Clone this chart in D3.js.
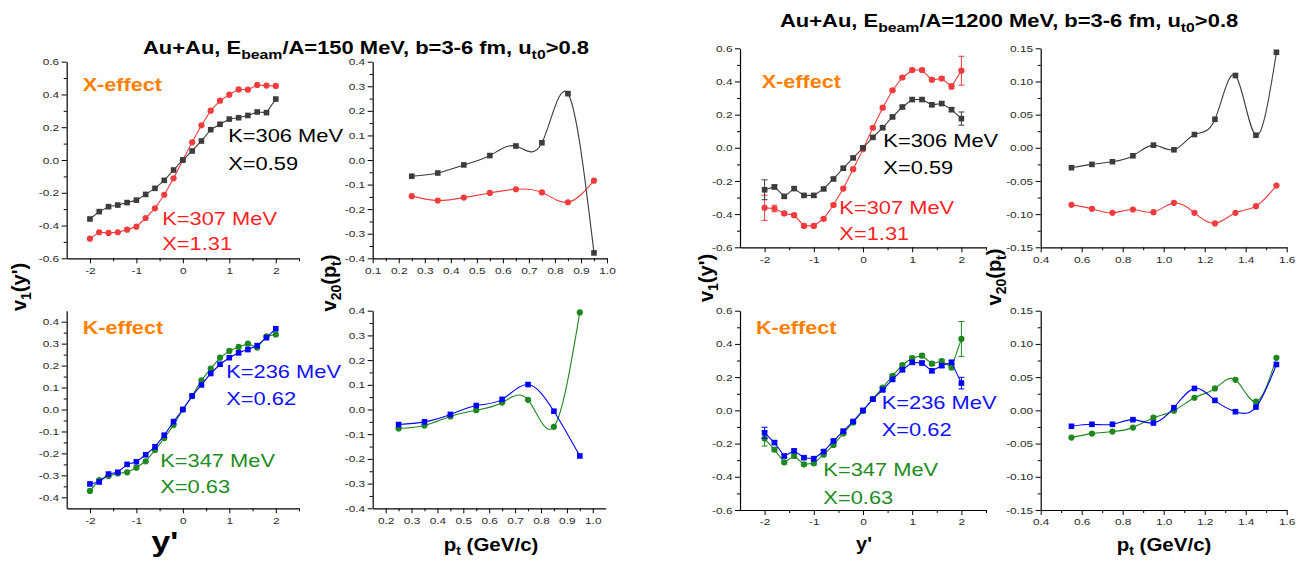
<!DOCTYPE html>
<html><head><meta charset="utf-8">
<script src="https://cdn.jsdelivr.net/npm/d3@7"></script>
<style>
body{margin:0;background:#fff}
svg{display:block}
text{font-family:Arial,"Liberation Sans",Helvetica,sans-serif}
</style>
</head><body>
<svg id="c" width="1304" height="561"></svg>
<script>
// ---------------- DATA ----------------
const yPrime = [-2,-1.8,-1.6,-1.4,-1.2,-1.0,-0.8,-0.6,-0.4,-0.2,0,0.2,0.4,0.6,0.8,1.0,1.2,1.4,1.6,1.8,2.0];
const pt150  = [0.25,0.35,0.45,0.55,0.65,0.75,0.85,0.95];
const pt1200 = [0.55,0.65,0.75,0.85,0.95,1.05,1.15,1.25,1.35,1.45,1.55];

// Ebeam/A = 150 MeV
const v1_150_K306  = [-0.36,-0.315,-0.285,-0.275,-0.26,-0.245,-0.21,-0.173,-0.124,-0.061,0,0.055,0.116,0.185,0.218,0.25,0.258,0.272,0.293,0.289,0.372];
const v1_150_K307  = [-0.48,-0.441,-0.445,-0.441,-0.425,-0.407,-0.354,-0.295,-0.212,-0.112,0,0.108,0.212,0.301,0.362,0.399,0.431,0.429,0.458,0.454,0.452];
const v20_150_K306 = [-0.066,-0.053,-0.02,0.018,0.057,0.07,0.27,-0.378];
const v20_150_K307 = [-0.147,-0.165,-0.153,-0.134,-0.119,-0.132,-0.172,-0.084];
const v1_150_K236  = [-0.339,-0.33,-0.294,-0.286,-0.25,-0.238,-0.206,-0.17,-0.117,-0.055,0,0.062,0.112,0.164,0.206,0.236,0.258,0.273,0.291,0.327,0.368];
const v1_150_K347  = [-0.371,-0.321,-0.303,-0.291,-0.286,-0.265,-0.236,-0.185,-0.13,-0.071,0,0.061,0.133,0.186,0.236,0.267,0.285,0.3,0.282,0.333,0.342];
const v20_150_K236 = [-0.061,-0.05,-0.02,0.016,0.041,0.101,-0.007,-0.188];
const v20_150_K347 = [-0.077,-0.065,-0.028,-0.003,0.028,0.039,-0.07,0.393];

// Ebeam/A = 1200 MeV
const v1_1200_K306  = [-0.253,-0.236,-0.293,-0.246,-0.287,-0.287,-0.248,-0.188,-0.123,-0.061,0.0,0.063,0.121,0.186,0.246,0.291,0.291,0.259,0.267,0.23,0.176];
const e1_1200_K306  = [0.06,0.012,0.01,0.01,0.01,0.01,0.008,0.008,0.008,0.008,0.008,0.008,0.008,0.008,0.008,0.01,0.01,0.01,0.01,0.012,0.04];
const v1_1200_K307  = [-0.362,-0.366,-0.396,-0.406,-0.471,-0.471,-0.428,-0.345,-0.246,-0.129,-0.008,0.121,0.242,0.347,0.424,0.469,0.469,0.41,0.418,0.37,0.465];
const e1_1200_K307  = [0.076,0.02,0.01,0.01,0.01,0.01,0.008,0.008,0.008,0.008,0.008,0.008,0.008,0.008,0.008,0.01,0.01,0.01,0.01,0.015,0.087];
const v20_1200_K306 = [-0.030,-0.025,-0.021,-0.012,0.004,-0.003,0.020,0.043,0.109,0.019,0.144];
const v20_1200_K307 = [-0.086,-0.092,-0.098,-0.093,-0.097,-0.083,-0.098,-0.114,-0.098,-0.088,-0.057];
const v1_1200_K236  = [-0.135,-0.194,-0.275,-0.244,-0.285,-0.291,-0.248,-0.184,-0.125,-0.067,0,0.067,0.123,0.186,0.244,0.289,0.285,0.238,0.269,0.289,0.164];
const e1_1200_K236  = [0.033,0.01,0.01,0.01,0.01,0.01,0.008,0.008,0.008,0.008,0.008,0.008,0.008,0.008,0.008,0.01,0.01,0.01,0.01,0.012,0.035];
const v1_1200_K347  = [-0.17,-0.236,-0.313,-0.275,-0.325,-0.319,-0.267,-0.208,-0.139,-0.073,-0.004,0.069,0.137,0.208,0.273,0.315,0.329,0.281,0.297,0.259,0.43];
const e1_1200_K347  = [0.045,0.012,0.01,0.01,0.01,0.01,0.008,0.008,0.008,0.008,0.008,0.008,0.008,0.008,0.008,0.01,0.01,0.01,0.01,0.015,0.105];
const v20_1200_K236 = [-0.024,-0.021,-0.021,-0.014,-0.019,0.004,0.033,0.015,-0.002,0.005,0.069];
const v20_1200_K347 = [-0.041,-0.035,-0.032,-0.026,-0.011,-0.0005,0.019,0.033,0.046,0.013,0.079];

// tick values / labels
const ticksY06   = [-0.6,-0.4,-0.2,0,0.2,0.4,0.6];
const minorY06   = [-0.5,-0.3,-0.1,0.1,0.3,0.5];
const ticksY04   = [-0.4,-0.3,-0.2,-0.1,0,0.1,0.2,0.3,0.4];
const minorY04   = [-0.35,-0.25,-0.15,-0.05,0.05,0.15,0.25,0.35];
const ticksY015  = [-0.15,-0.10,-0.05,0,0.05,0.10,0.15];
const minorY015  = [-0.125,-0.075,-0.025,0.025,0.075,0.125];
const ticksYp    = [-2,-1,0,1,2];
const minorYp    = [-1.5,-0.5,0.5,1.5,2.5];
const ticksPt150a = [0.1,0.2,0.3,0.4,0.5,0.6,0.7,0.8,0.9,1.0];
const minorPt150a = [0.15,0.25,0.35,0.45,0.55,0.65,0.75,0.85,0.95];
const ticksPt150b = [0.2,0.3,0.4,0.5,0.6,0.7,0.8,0.9,1.0];
const minorPt150b = [0.25,0.35,0.45,0.55,0.65,0.75,0.85,0.95];
const ticksPt1200 = [0.4,0.6,0.8,1.0,1.2,1.4,1.6];
const minorPt1200 = [0.5,0.7,0.9,1.1,1.3,1.5];

const titleLeft  = [["Au+Au, E",false],["beam",true],["/A=150 MeV, b=3-6 fm, u",false],["t0",true],[">0.8",false]];
const titleRight = [["Au+Au, E",false],["beam",true],["/A=1200 MeV, b=3-6 fm, u",false],["t0",true],[">0.8",false]];

// ---------------- STYLE ----------------
const C = {grey:"#3c3c3c", red:"#f03c3c", redT:"#ff1f1f", blue:"#0000ff", blueT:"#1010ff", green:"#1e871e", greenT:"#228b22", orange:"#ff8000"};
const SXT = 1.25; // horizontal stretch of tick labels

const svg = d3.select("#c");
const fix = d => Math.abs(d) < 1e-9 ? 0 : d;
const f0 = d => String(fix(d));
const f1 = d => fix(d).toFixed(1);
const f2 = d => fix(d).toFixed(2);

function stretchedText(g, x, y, txt, o) {
  const t = g.append("text")
    .attr("transform", `translate(${x},${y}) scale(${o.sx||1},1)`)
    .attr("font-size", o.size).attr("font-weight", o.bold ? "bold" : "normal")
    .attr("fill", o.color || "#000").attr("text-anchor", o.anchor || "start");
  t.text(txt);
  return t;
}

function panel(cfg) {
  const x = d3.scaleLinear().domain(cfg.xDomain).range([cfg.left, cfg.right]);
  const y = d3.scaleLinear().domain(cfg.yDomain).range([cfg.bottom, cfg.top]);
  const g = svg.append("g");

  // minor ticks
  g.append("g").attr("transform", `translate(0,${cfg.bottom})`)
    .call(d3.axisBottom(x).tickValues(cfg.xMinor).tickSize(3).tickFormat(""))
    .call(s => { s.select(".domain").remove(); s.selectAll("line").attr("stroke","#000"); });
  g.append("g").attr("transform", `translate(${cfg.left},0)`)
    .call(d3.axisLeft(y).tickValues(cfg.yMinor).tickSize(3).tickFormat(""))
    .call(s => { s.select(".domain").remove(); s.selectAll("line").attr("stroke","#000"); });

  // major axes
  g.append("g").attr("transform", `translate(0,${cfg.bottom})`)
    .call(d3.axisBottom(x).tickValues(cfg.xTicks).tickSize(5).tickSizeOuter(0).tickFormat(cfg.xFmt))
    .call(s => {
      s.select(".domain").attr("stroke","#000").attr("stroke-width",1.2);
      s.selectAll("line").attr("stroke","#000");
      s.selectAll("text").attr("y", 8.5).attr("font-size", 9.5).attr("fill", "#2a2a2a")
        .attr("transform", `scale(${SXT},1)`);
    });
  g.append("g").attr("transform", `translate(${cfg.left},0)`)
    .call(d3.axisLeft(y).tickValues(cfg.yTicks).tickSize(5).tickSizeOuter(0).tickFormat(cfg.yFmt))
    .call(s => {
      s.select(".domain").attr("stroke","#000").attr("stroke-width",1.2);
      s.selectAll("line").attr("stroke","#000");
      s.selectAll("text").attr("x", -7.5 / SXT).attr("font-size", 9.5).attr("fill", "#2a2a2a")
        .attr("transform", `scale(${SXT},1)`);
    });

  // series
  cfg.series.forEach(s => {
    const pts = cfg.xs.map((v, i) => ({x: v, y: s.ys[i], e: s.err ? s.err[i] : 0}));
    const line = d3.line().x(d => x(d.x)).y(d => y(d.y)).curve(cfg.curve);
    g.append("path").datum(pts).attr("d", line)
      .attr("fill", "none").attr("stroke", s.color).attr("stroke-width", 1.1);
    if (s.err) {
      const eb = g.append("g").attr("stroke", s.color).attr("stroke-width", 1);
      pts.forEach(d => {
        const xx = x(d.x), y0 = y(d.y - d.e), y1 = y(d.y + d.e);
        eb.append("line").attr("x1", xx).attr("x2", xx).attr("y1", y0).attr("y2", y1);
        eb.append("line").attr("x1", xx - 3).attr("x2", xx + 3).attr("y1", y0).attr("y2", y0);
        eb.append("line").attr("x1", xx - 3).attr("x2", xx + 3).attr("y1", y1).attr("y2", y1);
      });
    }
    if (s.shape === "square") {
      g.append("g").selectAll("rect").data(pts).join("rect")
        .attr("x", d => x(d.x) - 2.8).attr("y", d => y(d.y) - 2.8)
        .attr("width", 5.6).attr("height", 5.6).attr("fill", s.color);
    } else {
      g.append("g").selectAll("circle").data(pts).join("circle")
        .attr("cx", d => x(d.x)).attr("cy", d => y(d.y)).attr("r", 3.1).attr("fill", s.color);
    }
  });

  // annotations (offsets relative to panel top-left)
  (cfg.notes || []).forEach(n => {
    stretchedText(g, cfg.left + n.dx, cfg.top + n.dy, n.text,
      {size: n.size, bold: n.bold, color: n.color, sx: n.sx});
  });
}

// ---------------- PANELS ----------------
// left block (150 MeV)
panel({left:66.7, right:299, top:61.7, bottom:258.3, xDomain:[-2.5,2.5], yDomain:[-0.6,0.6],
  xTicks:ticksYp, xMinor:minorYp, yTicks:ticksY06, yMinor:minorY06, xFmt:f0, yFmt:f1,
  xs:yPrime, curve:d3.curveLinear,
  series:[{ys:v1_150_K307, color:C.red, shape:"circle"},{ys:v1_150_K306, color:C.grey, shape:"square"}],
  notes:[
    {text:"X-effect", dx:16, dy:29.5, size:18, bold:true, color:C.orange, sx:1.2},
    {text:"K=306 MeV", dx:161.5, dy:80.5, size:17.5, color:"#000", sx:1.25},
    {text:"X=0.59", dx:161.5, dy:108.5, size:17.5, color:"#000", sx:1.25},
    {text:"K=307 MeV", dx:95.5, dy:163.5, size:17.5, color:C.redT, sx:1.25},
    {text:"X=1.31", dx:95.5, dy:188.5, size:17.5, color:C.redT, sx:1.25}
  ]});
panel({left:372.7, right:607, top:61.7, bottom:258.3, xDomain:[0.1,1.0], yDomain:[-0.4,0.4],
  xTicks:ticksPt150a, xMinor:minorPt150a, yTicks:ticksY04, yMinor:minorY04, xFmt:f1, yFmt:f1,
  xs:pt150, curve:d3.curveNatural,
  series:[{ys:v20_150_K307, color:C.red, shape:"circle"},{ys:v20_150_K306, color:C.grey, shape:"square"}]});
panel({left:66.7, right:299, top:310.7, bottom:508.3, xDomain:[-2.5,2.5], yDomain:[-0.45,0.45],
  xTicks:ticksYp, xMinor:minorYp, yTicks:ticksY04, yMinor:minorY04, xFmt:f0, yFmt:f1,
  xs:yPrime, curve:d3.curveLinear,
  series:[{ys:v1_150_K347, color:C.green, shape:"circle"},{ys:v1_150_K236, color:C.blue, shape:"square"}],
  notes:[
    {text:"K-effect", dx:16, dy:23.6, size:18, bold:true, color:C.orange, sx:1.2},
    {text:"K=236 MeV", dx:159.5, dy:67.5, size:17.5, color:C.blueT, sx:1.25},
    {text:"X=0.62", dx:159.5, dy:94.5, size:17.5, color:C.blueT, sx:1.25},
    {text:"K=347 MeV", dx:93.5, dy:156, size:17.5, color:C.greenT, sx:1.25},
    {text:"X=0.63", dx:93.5, dy:182, size:17.5, color:C.greenT, sx:1.25}
  ]});
panel({left:372.7, right:605.7, top:310.7, bottom:508.3, xDomain:[0.15,1.05], yDomain:[-0.4,0.4],
  xTicks:ticksPt150b, xMinor:minorPt150b, yTicks:ticksY04, yMinor:minorY04, xFmt:f1, yFmt:f1,
  xs:pt150, curve:d3.curveNatural,
  series:[{ys:v20_150_K347, color:C.green, shape:"circle"},{ys:v20_150_K236, color:C.blue, shape:"square"}]});

// right block (1200 MeV)
panel({left:740, right:986, top:48.3, bottom:247.3, xDomain:[-2.5,2.5], yDomain:[-0.6,0.6],
  xTicks:ticksYp, xMinor:minorYp, yTicks:ticksY06, yMinor:minorY06, xFmt:f0, yFmt:f1,
  xs:yPrime, curve:d3.curveLinear,
  series:[{ys:v1_1200_K307, err:e1_1200_K307, color:C.red, shape:"circle"},
          {ys:v1_1200_K306, err:e1_1200_K306, color:C.grey, shape:"square"}],
  notes:[
    {text:"X-effect", dx:21.7, dy:40, size:18, bold:true, color:C.orange, sx:1.2},
    {text:"K=306 MeV", dx:143.3, dy:98.5, size:17.5, color:"#000", sx:1.25},
    {text:"X=0.59", dx:143.3, dy:126, size:17.5, color:"#000", sx:1.25},
    {text:"K=307 MeV", dx:99.3, dy:165.5, size:17.5, color:C.redT, sx:1.25},
    {text:"X=1.31", dx:99.3, dy:192, size:17.5, color:C.redT, sx:1.25}
  ]});
panel({left:1040.7, right:1286.7, top:48.3, bottom:247.3, xDomain:[0.4,1.6], yDomain:[-0.15,0.15],
  xTicks:ticksPt1200, xMinor:minorPt1200, yTicks:ticksY015, yMinor:minorY015, xFmt:f1, yFmt:f2,
  xs:pt1200, curve:d3.curveNatural,
  series:[{ys:v20_1200_K307, color:C.red, shape:"circle"},{ys:v20_1200_K306, color:C.grey, shape:"square"}]});
panel({left:740, right:986, top:310.7, bottom:510, xDomain:[-2.5,2.5], yDomain:[-0.6,0.6],
  xTicks:ticksYp, xMinor:minorYp, yTicks:ticksY06, yMinor:minorY06, xFmt:f0, yFmt:f1,
  xs:yPrime, curve:d3.curveLinear,
  series:[{ys:v1_1200_K347, err:e1_1200_K347, color:C.green, shape:"circle"},
          {ys:v1_1200_K236, err:e1_1200_K236, color:C.blue, shape:"square"}],
  notes:[
    {text:"K-effect", dx:16, dy:23.3, size:18, bold:true, color:C.orange, sx:1.2},
    {text:"K=236 MeV", dx:141.7, dy:98, size:17.5, color:C.blueT, sx:1.25},
    {text:"X=0.62", dx:141.7, dy:125.5, size:17.5, color:C.blueT, sx:1.25},
    {text:"K=347 MeV", dx:83.3, dy:165.5, size:17.5, color:C.greenT, sx:1.25},
    {text:"X=0.63", dx:83.3, dy:193, size:17.5, color:C.greenT, sx:1.25}
  ]});
panel({left:1040.7, right:1286.7, top:310.7, bottom:510, xDomain:[0.4,1.6], yDomain:[-0.15,0.15],
  xTicks:ticksPt1200, xMinor:minorPt1200, yTicks:ticksY015, yMinor:minorY015, xFmt:f1, yFmt:f2,
  xs:pt1200, curve:d3.curveNatural,
  series:[{ys:v20_1200_K347, color:C.green, shape:"circle"},{ys:v20_1200_K236, color:C.blue, shape:"square"}]});

// ---------------- TITLES ----------------
function title(parts, x, y, size, sx) {
  const t = svg.append("text").attr("transform", `translate(${x},${y}) scale(${sx},1)`)
    .attr("font-size", size).attr("font-weight", "bold").attr("fill", "#000");
  let shifted = false;
  parts.forEach(([s, sub]) => {
    const ts = t.append("tspan").text(s);
    if (sub) { ts.attr("font-size", size * 0.72).attr("dy", size * 0.3); shifted = true; }
    else if (shifted) { ts.attr("dy", -size * 0.3); shifted = false; }
  });
}
title(titleLeft, 143, 54, 18, 1.22);
title(titleRight, 780, 27, 18, 1.22);

// rotated axis titles with subscripts
function vlabel(cx, cy, parts, size) {
  const t = svg.append("text").attr("transform", `translate(${cx},${cy}) rotate(-90)`)
    .attr("text-anchor", "middle").attr("dominant-baseline", "middle")
    .attr("font-size", size).attr("font-weight", "bold").attr("fill", "#000");
  let prevSub = false;
  parts.forEach(([s, isSub]) => {
    const ts = t.append("tspan").text(s);
    if (isSub) ts.attr("font-size", size * 0.7);
    if (isSub && !prevSub) ts.attr("dy", size * 0.3);
    else if (!isSub && prevSub) ts.attr("dy", -size * 0.3);
    prevSub = isSub;
  });
}
vlabel(21, 287, [["v",false],["1",true],["(y')",false]], 20);
vlabel(331, 283, [["v",false],["20",true],["(p",false],["t",true],[")",false]], 20);
vlabel(708, 278, [["v",false],["1",true],["(y')",false]], 20);
vlabel(996, 277, [["v",false],["20",true],["(p",false],["t",true],[")",false]], 20);

// x axis titles
stretchedText(svg, 165, 551, "y'", {size:27, bold:true, anchor:"middle", sx:1.25});
stretchedText(svg, 864, 550, "y'", {size:19, bold:true, anchor:"middle", sx:1.05});
function ptLabel(cx, y) {
  const t = svg.append("text").attr("transform", `translate(${cx},${y}) scale(1.08,1)`)
    .attr("text-anchor", "middle").attr("font-size", 19).attr("font-weight", "bold");
  t.append("tspan").text("p");
  t.append("tspan").text("t").attr("font-size", 13).attr("dy", 4);
  t.append("tspan").text(" (GeV/c)").attr("dy", -4);
}
ptLabel(491, 551);
ptLabel(1164, 551);
</script>
</body></html>
